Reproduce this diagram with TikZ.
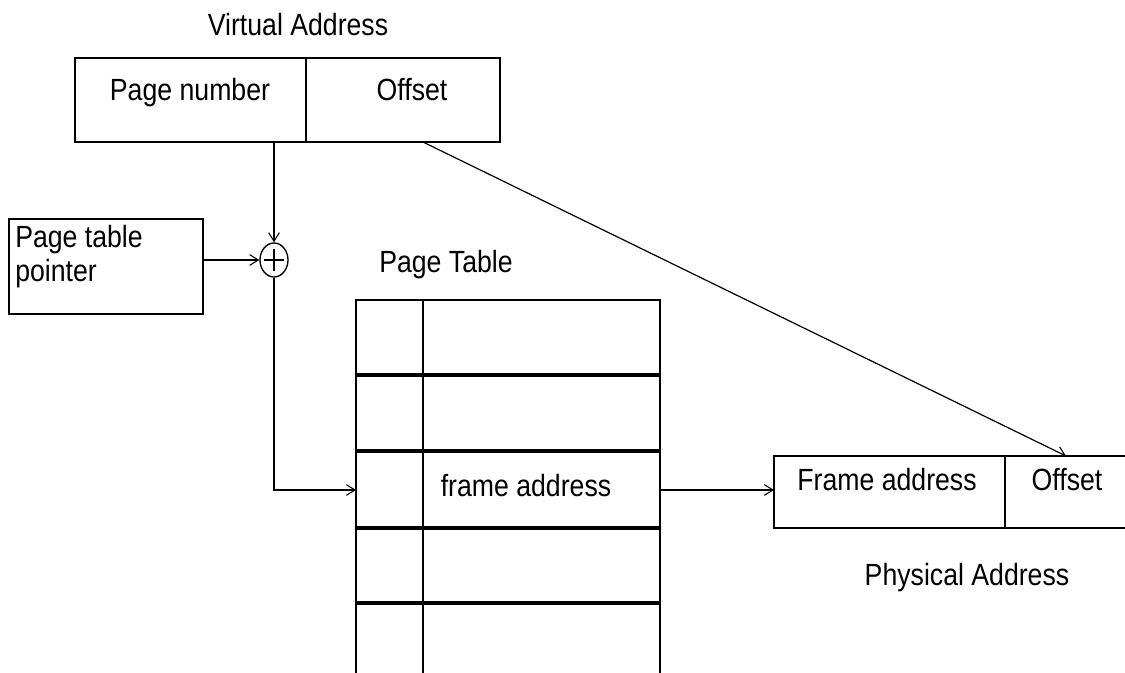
\documentclass[tikz,border=0pt]{standalone}
\usepackage{fontspec}
\setmainfont{Liberation Sans}
\usetikzlibrary{arrows.meta,shapes.geometric}
\newcommand{\tallt}[1]{\scalebox{1}[1.15]{#1}}
\begin{document}
\begin{tikzpicture}[x=0.75pt,y=-0.75pt,
  thin line/.style={line width=1pt},
  sep line/.style={line width=2.6pt},
  arr/.style={line width=0.9pt,-{Straight Barb[length=6.5pt,width=8pt,line width=0.8pt]}},
  lbl/.style={font=\fontsize{20}{24}\selectfont,inner sep=0pt,text height=16pt,text depth=4pt}]
\useasboundingbox (0,0) rectangle (1125,673);
% Virtual address
\node[lbl] (vatitle) at (298,28) {\tallt{Virtual Address}};
\draw[thin line] (75,58) rectangle (500,142);
\draw[thin line] (306,58) -- (306,142);
\node[lbl] (pn) at (190,93) {\tallt{Page number}};
\node[lbl] (voff) at (412,93) {\tallt{Offset}};
\coordinate (pnout) at (274,142);
\coordinate (offout) at (423,142);
% page table pointer
\draw[thin line] (9,219) rectangle (203,314);
\node[lbl,anchor=west] (ptp1) at (15,240) {\tallt{Page table}};
\node[lbl,anchor=west] (ptp2) at (15,274) {\tallt{pointer}};
\coordinate (ptpout) at (203,260);
% adder
\node[draw,thin line,ellipse,minimum width=21pt,minimum height=25.5pt,inner sep=0pt] (sum) at (274,260) {};
\draw[thin line] (264,260) -- (284,260);
\draw[thin line] (274,249) -- (274,271);
% page table
\node[lbl] (pttitle) at (446,265) {\tallt{Page Table}};
\draw[thin line] (356,673) -- (356,300) -- (660,300) -- (660,673);
\draw[thin line] (423,300) -- (423,673);
\foreach \yy in {375,451,528,603} \draw[sep line] (356,\yy) -- (660,\yy);
\coordinate (ptin) at (356,490);
\coordinate (ptout) at (660,490);
\coordinate (bend) at (274,490);
\node[lbl] (fa) at (526,489) {\tallt{frame address}};
% physical address
\draw[thin line] (774,456) rectangle (1130,528);
\draw[thin line] (1005,456) -- (1005,528);
\node[lbl] (pfa) at (887,482) {\tallt{Frame address}};
\node[lbl] (poff) at (1067,482) {\tallt{Offset}};
\node[lbl] (patitle) at (967,577) {\tallt{Physical Address}};
\coordinate (pain) at (774,490);
\coordinate (paoff) at (1066,456);
% connectors
\draw[arr] (pnout) -- (sum.north);
\draw[arr] (ptpout) -- (sum.west);
\draw[arr] (sum.south) -- (bend) -- (ptin);
\draw[arr] (ptout) -- (pain);
\draw[arr] (offout) -- (paoff);
\end{tikzpicture}
\end{document}
